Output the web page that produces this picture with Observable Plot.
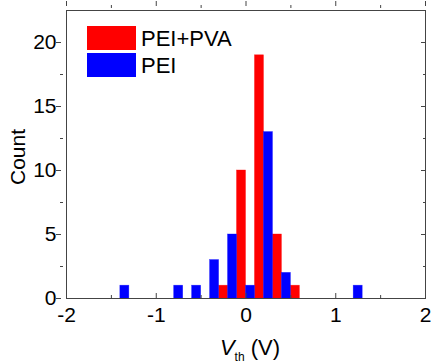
<!DOCTYPE html>
<html>
<head>
<meta charset="utf-8">
<script src="https://cdn.jsdelivr.net/npm/d3@7"></script>
<script src="https://cdn.jsdelivr.net/npm/@observablehq/plot@0.6"></script>
<style>
  html, body { margin: 0; padding: 0; background: #fff; }
  #chart svg { display: block; }
</style>
</head>
<body>
<div id="chart"></div>
<script>
// Bin centers (V) and counts
const seriesNames = ["PEI+PVA", "PEI"];
const seriesColors = ["#ff0000", "#0000ff"];
const peiPvaCenters = [-0.25, -0.05, 0.15, 0.35, 0.55];
const peiPvaCounts  = [1, 10, 19, 5, 1];
const peiCenters = [-1.35, -0.75, -0.55, -0.35, -0.15, 0.05, 0.25, 0.45, 1.25];
const peiCounts  = [1, 1, 1, 3, 5, 1, 13, 2, 1];
const binWidth = 0.1;
const xMajorTicks = [-2, -1, 0, 1, 2];
const xMinorTicks = [-1.5, -0.5, 0.5, 1.5];
const yMajorTicks = [0, 5, 10, 15, 20];
const yMinorTicks = [2.5, 7.5, 12.5, 17.5];

const bars = [
  ...peiPvaCenters.map((c, i) => ({series: seriesNames[0], x1: c - binWidth / 2, x2: c + binWidth / 2, count: peiPvaCounts[i]})),
  ...peiCenters.map((c, i) => ({series: seriesNames[1], x1: c - binWidth / 2, x2: c + binWidth / 2, count: peiCounts[i]}))
];

const W = 431, H = 363;
const font = "'Liberation Sans', Arial, sans-serif";
const frameColor = "#444";

function innerTicks(axisFn, anchor, ticks, size) {
  const off = -size;
  const o = {anchor, ticks, tickSize: size, tickFormat: () => "", label: null, stroke: frameColor};
  if (anchor === "top" || anchor === "bottom") o.dy = off; else o.dx = off;
  return axisFn(o);
}

const plot = Plot.plot({
  width: W,
  height: H,
  marginLeft: 66,
  marginRight: 6,
  marginTop: 10,
  marginBottom: 65,
  style: {fontFamily: font, fontSize: "21px", color: "#000", background: "#fff"},
  x: {domain: [-2, 2]},
  y: {domain: [0, 22.5]},
  color: {domain: seriesNames, range: seriesColors},
  marks: [
    Plot.rectY(bars, {x1: "x1", x2: "x2", y1: 0, y2: "count", fill: "series", stroke: "series", strokeWidth: 0.6, strokeOpacity: 0.6}),
    Plot.frame({stroke: frameColor, strokeWidth: 1}),
    innerTicks(Plot.axisX, "bottom", xMajorTicks, 5),
    innerTicks(Plot.axisX, "bottom", xMinorTicks, 3),
    innerTicks(Plot.axisX, "top", xMajorTicks, 5),
    innerTicks(Plot.axisX, "top", xMinorTicks, 3),
    innerTicks(Plot.axisY, "left", yMajorTicks, 5),
    innerTicks(Plot.axisY, "left", yMinorTicks, 3),
    innerTicks(Plot.axisY, "right", yMajorTicks, 5),
    innerTicks(Plot.axisY, "right", yMinorTicks, 3),
    Plot.axisX({anchor: "bottom", ticks: xMajorTicks, tickSize: 0, tickPadding: 9, label: null, fontSize: 21, tickFormat: d => d < 0 ? "-" + Math.abs(d) : String(d)}),
    Plot.axisY({anchor: "left", ticks: yMajorTicks, tickSize: 0, tickPadding: 10, label: null, fontSize: 21, tickFormat: d => String(d)})
  ]
});

document.getElementById("chart").appendChild(plot);

// Axis titles and legend
const svg = d3.select(plot);
svg.append("text")
  .attr("transform", "translate(25,157) rotate(-90)")
  .attr("text-anchor", "middle")
  .attr("font-family", font).attr("font-size", 21).attr("fill", "#000")
  .text("Count");

const xl = svg.append("text")
  .attr("x", 250).attr("y", 355)
  .attr("text-anchor", "middle")
  .attr("font-family", font).attr("font-size", 22).attr("fill", "#000");
xl.append("tspan").attr("font-style", "italic").text("V");
xl.append("tspan").attr("font-size", 12).attr("dy", 6).text("th");
xl.append("tspan").attr("dy", -6).text(" (V)");

const leg = svg.append("g");
seriesNames.forEach((name, i) => {
  const y0 = 26 + i * 27;
  leg.append("rect").attr("x", 87).attr("y", y0).attr("width", 49).attr("height", 24)
    .attr("fill", seriesColors[i]);
  leg.append("text").attr("x", 141).attr("y", y0 + 20)
    .attr("text-anchor", "start")
    .attr("font-family", font).attr("font-size", 22).attr("fill", "#000")
    .text(name);
});
</script>
</body>
</html>
